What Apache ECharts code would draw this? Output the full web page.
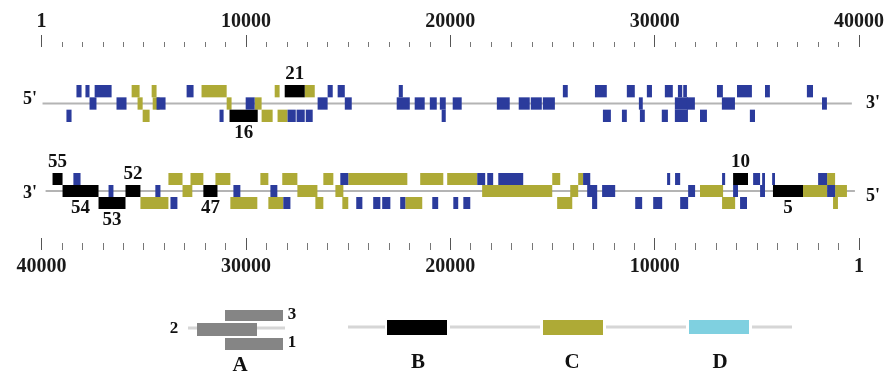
<!DOCTYPE html>
<html>
<head>
<meta charset="utf-8">
<script src="https://cdn.jsdelivr.net/npm/echarts@6/dist/echarts.min.js"></script>
<style>
  html, body { margin: 0; padding: 0; background: #fff; }
  #chart { width: 891px; height: 376px; }
</style>
</head>
<body>
<div id="chart"></div>
<script>
// genome axis (bp); "1" is shown for the origin
const axisTicks = [0, 10000, 20000, 30000, 40000]

// each box: [start, end, lane]  lane 1 = above line, 0 = on line, -1 = below
// top strand 5' -> 3'
const topSpan = [[50, 39650]]
const topBlue = [
  [1220, 1470, -1], [1710, 1960, 1], [2150, 2350, 1], [2350, 2690, 0], [2600, 3430, 1],
  [3670, 4160, 0], [5630, 6070, 0], [7100, 7440, 1], [8710, 8910, -1], [9990, 10430, 0],
  [12040, 12440, -1], [12480, 12880, -1], [12930, 13270, -1], [13510, 14000, 0], [14000, 14250, 1],
  [14490, 14840, 1], [14840, 15180, 0], [17480, 17680, 1], [17380, 18020, 0], [18260, 18750, 0],
  [19000, 19340, 0], [19490, 19780, 0], [19580, 19780, -1], [20120, 20560, 0], [22280, 22910, 0],
  [23350, 23890, 0], [23940, 24480, 0], [24530, 25120, 0], [25510, 25750, 1], [27080, 27660, 1],
  [27470, 27860, -1], [28400, 28640, -1], [28640, 29030, 1], [29230, 29420, 0], [29280, 29520, -1],
  [29620, 29870, 1], [30350, 30650, -1], [30500, 30890, 1], [30990, 31630, 0], [30990, 31630, -1],
  [31140, 31350, 1], [31400, 31580, 1], [31580, 31970, 0], [32220, 32560, -1], [33050, 33340, 1],
  [33290, 33930, 0], [34030, 34760, 1], [34660, 34910, -1], [35400, 35640, 1], [37450, 37750, 1],
  [38190, 38430, 0]
]
const topOlive = [
  [4410, 4800, 1], [4700, 4950, 0], [4950, 5290, -1], [5390, 5630, 1], [5440, 5780, 0],
  [7830, 9060, 1], [9060, 9300, 0], [10430, 10770, 0], [10770, 11310, -1], [11410, 11650, 1],
  [11550, 12040, -1], [12880, 13370, 1]
]
// [start, end, lane, label, side]  side 1 = label above, -1 = below
const topBlack = [
  [11900, 12880, 1, '21', 1], [9200, 10580, -1, '16', -1]
]

// bottom strand 3' -> 5' (axis runs 40000 -> 1)
const botSpan = [[200, 39800]]
const botBlue = [
  [38090, 38440, 1], [36480, 36720, 0], [34180, 34430, 0], [33350, 33690, -1], [30270, 30610, 0],
  [28460, 28800, 0], [27820, 28170, -1], [24990, 25380, 1], [24300, 24600, -1], [23420, 23770, -1],
  [22930, 23330, -1], [22200, 22450, -1], [20590, 20880, -1], [19610, 19850, -1], [19020, 19360, -1],
  [18290, 18680, 1], [17900, 18190, 1], [16430, 17650, 1], [13150, 13500, 1], [12810, 13300, 0],
  [12810, 13060, -1], [11930, 12570, 0], [10610, 10950, -1], [9630, 10070, -1], [9240, 9390, 1],
  [8750, 9000, 1], [8360, 8750, -1], [8020, 8360, 0], [6550, 6700, 1], [5920, 6160, 0],
  [5480, 5820, -1], [4840, 5180, 1], [4600, 4740, 1], [4600, 4840, 0], [4110, 4250, 1],
  [1560, 2000, 1], [1170, 1560, 0]
]
const botOlive = [
  [33790, 35160, -1], [33100, 33790, 1], [32620, 33100, 0], [32080, 32710, 1], [30760, 31490, 1],
  [29440, 30760, -1], [28900, 29290, 1], [28170, 28900, -1], [27480, 28220, 1], [26500, 27480, 0],
  [26210, 26600, -1], [25720, 26210, 1], [25230, 25620, 0], [24990, 25280, -1], [22100, 24990, 1],
  [21370, 22200, -1], [20340, 21470, 1], [18680, 20150, 1], [15010, 18440, 0], [14620, 15010, 1],
  [14030, 14770, -1], [13740, 14130, 0], [13500, 13740, 1], [6650, 7780, 0], [6060, 6700, -1],
  [1560, 2740, 0], [1170, 1560, 1], [590, 1170, 0], [1030, 1270, -1]
]
const botBlack = [
  [38970, 39460, 1, '55', 1], [37210, 38970, 0, '54', -1], [35890, 37210, -1, '53', -1],
  [35160, 35890, 0, '52', 1], [31390, 32080, 0, '47', -1], [5430, 6160, 1, '10', 1],
  [2740, 4210, 0, '5', -1]
]

const BLUE = '#2b3b9c'
const OLIVE = '#aeaa36'
const BLACK = '#000'
const CYAN = '#7fd0e0'
const SERIF = '"Liberation Serif", "Times New Roman", serif'

const chart = echarts.init(document.getElementById('chart'))

const boxItem = (data, color) => (params, api) => {
  const a = api.coord([api.value(0), api.value(2)])
  const b = api.coord([api.value(1), api.value(2)])
  const h = api.size([0, 1])[1]
  const rect = {
    type: 'rect',
    shape: { x: Math.min(a[0], b[0]), y: a[1] - h / 2, width: Math.abs(b[0] - a[0]), height: h },
    style: { fill: color }
  }
  const row = data[params.dataIndex]
  if (row.length < 4) return rect
  const side = row[4]
  return {
    type: 'group',
    children: [rect, {
      type: 'text',
      style: {
        text: row[3], x: (a[0] + b[0]) / 2, y: a[1] - side * (h / 2 + 11),
        align: 'center', verticalAlign: 'middle',
        font: 'bold 19px ' + SERIF, fill: '#111'
      }
    }]
  }
}

const lineItem = (params, api) => {
  const a = api.coord([api.value(0), 0])
  const b = api.coord([api.value(1), 0])
  return {
    type: 'line',
    shape: { x1: a[0], y1: a[1], x2: b[0], y2: b[1] },
    style: { stroke: '#b4b4b4', lineWidth: 2 }
  }
}

const boxSeries = (data, color, gi) => ({
  type: 'custom',
  xAxisIndex: gi,
  yAxisIndex: gi,
  renderItem: boxItem(data, color),
  encode: { x: [0, 1], y: 2 },
  data: data.map(r => r.slice(0, 3)),
  silent: true
})

const lineSeries = (data, gi) => ({
  type: 'custom',
  xAxisIndex: gi,
  yAxisIndex: gi,
  renderItem: lineItem,
  encode: { x: [0, 1] },
  data: data,
  silent: true
})

const axisBase = {
  type: 'value',
  min: axisTicks[0],
  max: axisTicks[axisTicks.length - 1],
  interval: axisTicks[1] - axisTicks[0],
  axisLine: { show: false, onZero: false },
  splitLine: { show: false },
  minorSplitLine: { show: false },
  axisLabel: {
    formatter: v => (v === 0 ? '1' : String(v)),
    fontFamily: SERIF,
    fontWeight: 'bold',
    fontSize: 20,
    color: '#1a1a1a'
  }
}

const txt = (text, x, y, size) => ({
  type: 'text',
  style: {
    text, x, y, align: 'center', verticalAlign: 'middle',
    font: 'bold ' + size + 'px ' + SERIF, fill: '#111'
  }
})
const gline = (x1, x2, y) => ({
  type: 'line',
  shape: { x1, y1: y, x2, y2: y },
  style: { stroke: '#d6d6d6', lineWidth: 3 }
})
const grect = (x, y, w, h, fill) => ({
  type: 'rect',
  shape: { x, y, width: w, height: h },
  style: { fill }
})

const option = {
  animation: false,
  grid: [
    { left: 41.5, right: 32, top: 85, height: 37 },
    { left: 41.5, right: 32, top: 173, height: 36 }
  ],
  xAxis: [
    Object.assign({}, axisBase, {
      gridIndex: 0,
      position: 'top',
      offset: 38,
      axisTick: { show: true, length: 12, lineStyle: { color: '#555' } },
      minorTick: { show: true, splitNumber: 10, length: 5, lineStyle: { color: '#777' } },
      axisLabel: Object.assign({}, axisBase.axisLabel, { margin: 15 })
    }),
    Object.assign({}, axisBase, {
      gridIndex: 1,
      inverse: true,
      position: 'bottom',
      offset: 41,
      axisTick: { show: true, inside: true, length: 12, lineStyle: { color: '#555' } },
      minorTick: { show: true, splitNumber: 10, length: 7, lineStyle: { color: '#777' } },
      axisLabel: Object.assign({}, axisBase.axisLabel, { margin: 7 })
    })
  ],
  yAxis: [
    { gridIndex: 0, type: 'value', min: -1.5, max: 1.5, show: false },
    { gridIndex: 1, type: 'value', min: -1.5, max: 1.5, show: false }
  ],
  series: [
    lineSeries(topSpan, 0),
    boxSeries(topOlive, OLIVE, 0),
    boxSeries(topBlack, BLACK, 0),
    boxSeries(topBlue, BLUE, 0),
    lineSeries(botSpan, 1),
    boxSeries(botOlive, OLIVE, 1),
    boxSeries(botBlack, BLACK, 1),
    boxSeries(botBlue, BLUE, 1)
  ],
  graphic: [
    txt("5'", 30, 99, 18), txt("3'", 873, 103, 18),
    txt("3'", 30, 193, 18), txt("5'", 873, 196, 18),
    // key
    gline(188, 285, 328),
    grect(225, 310, 58, 11, '#858585'),
    grect(197, 323, 60, 13, '#858585'),
    grect(225, 338, 58, 12, '#858585'),
    txt('2', 174, 329, 17), txt('3', 292, 315, 17), txt('1', 292, 343, 17),
    gline(348, 385, 327), gline(450, 540, 327), gline(606, 686, 327), gline(752, 792, 327),
    grect(387, 320, 60, 15, BLACK),
    grect(543, 320, 60, 15, OLIVE),
    grect(689, 320, 60, 14, CYAN),
    txt('A', 240, 366, 21), txt('B', 418, 363, 21), txt('C', 572, 363, 21), txt('D', 720, 363, 21)
  ]
}

chart.setOption(option)
window.addEventListener('resize', () => chart.resize())
</script>
</body>
</html>
